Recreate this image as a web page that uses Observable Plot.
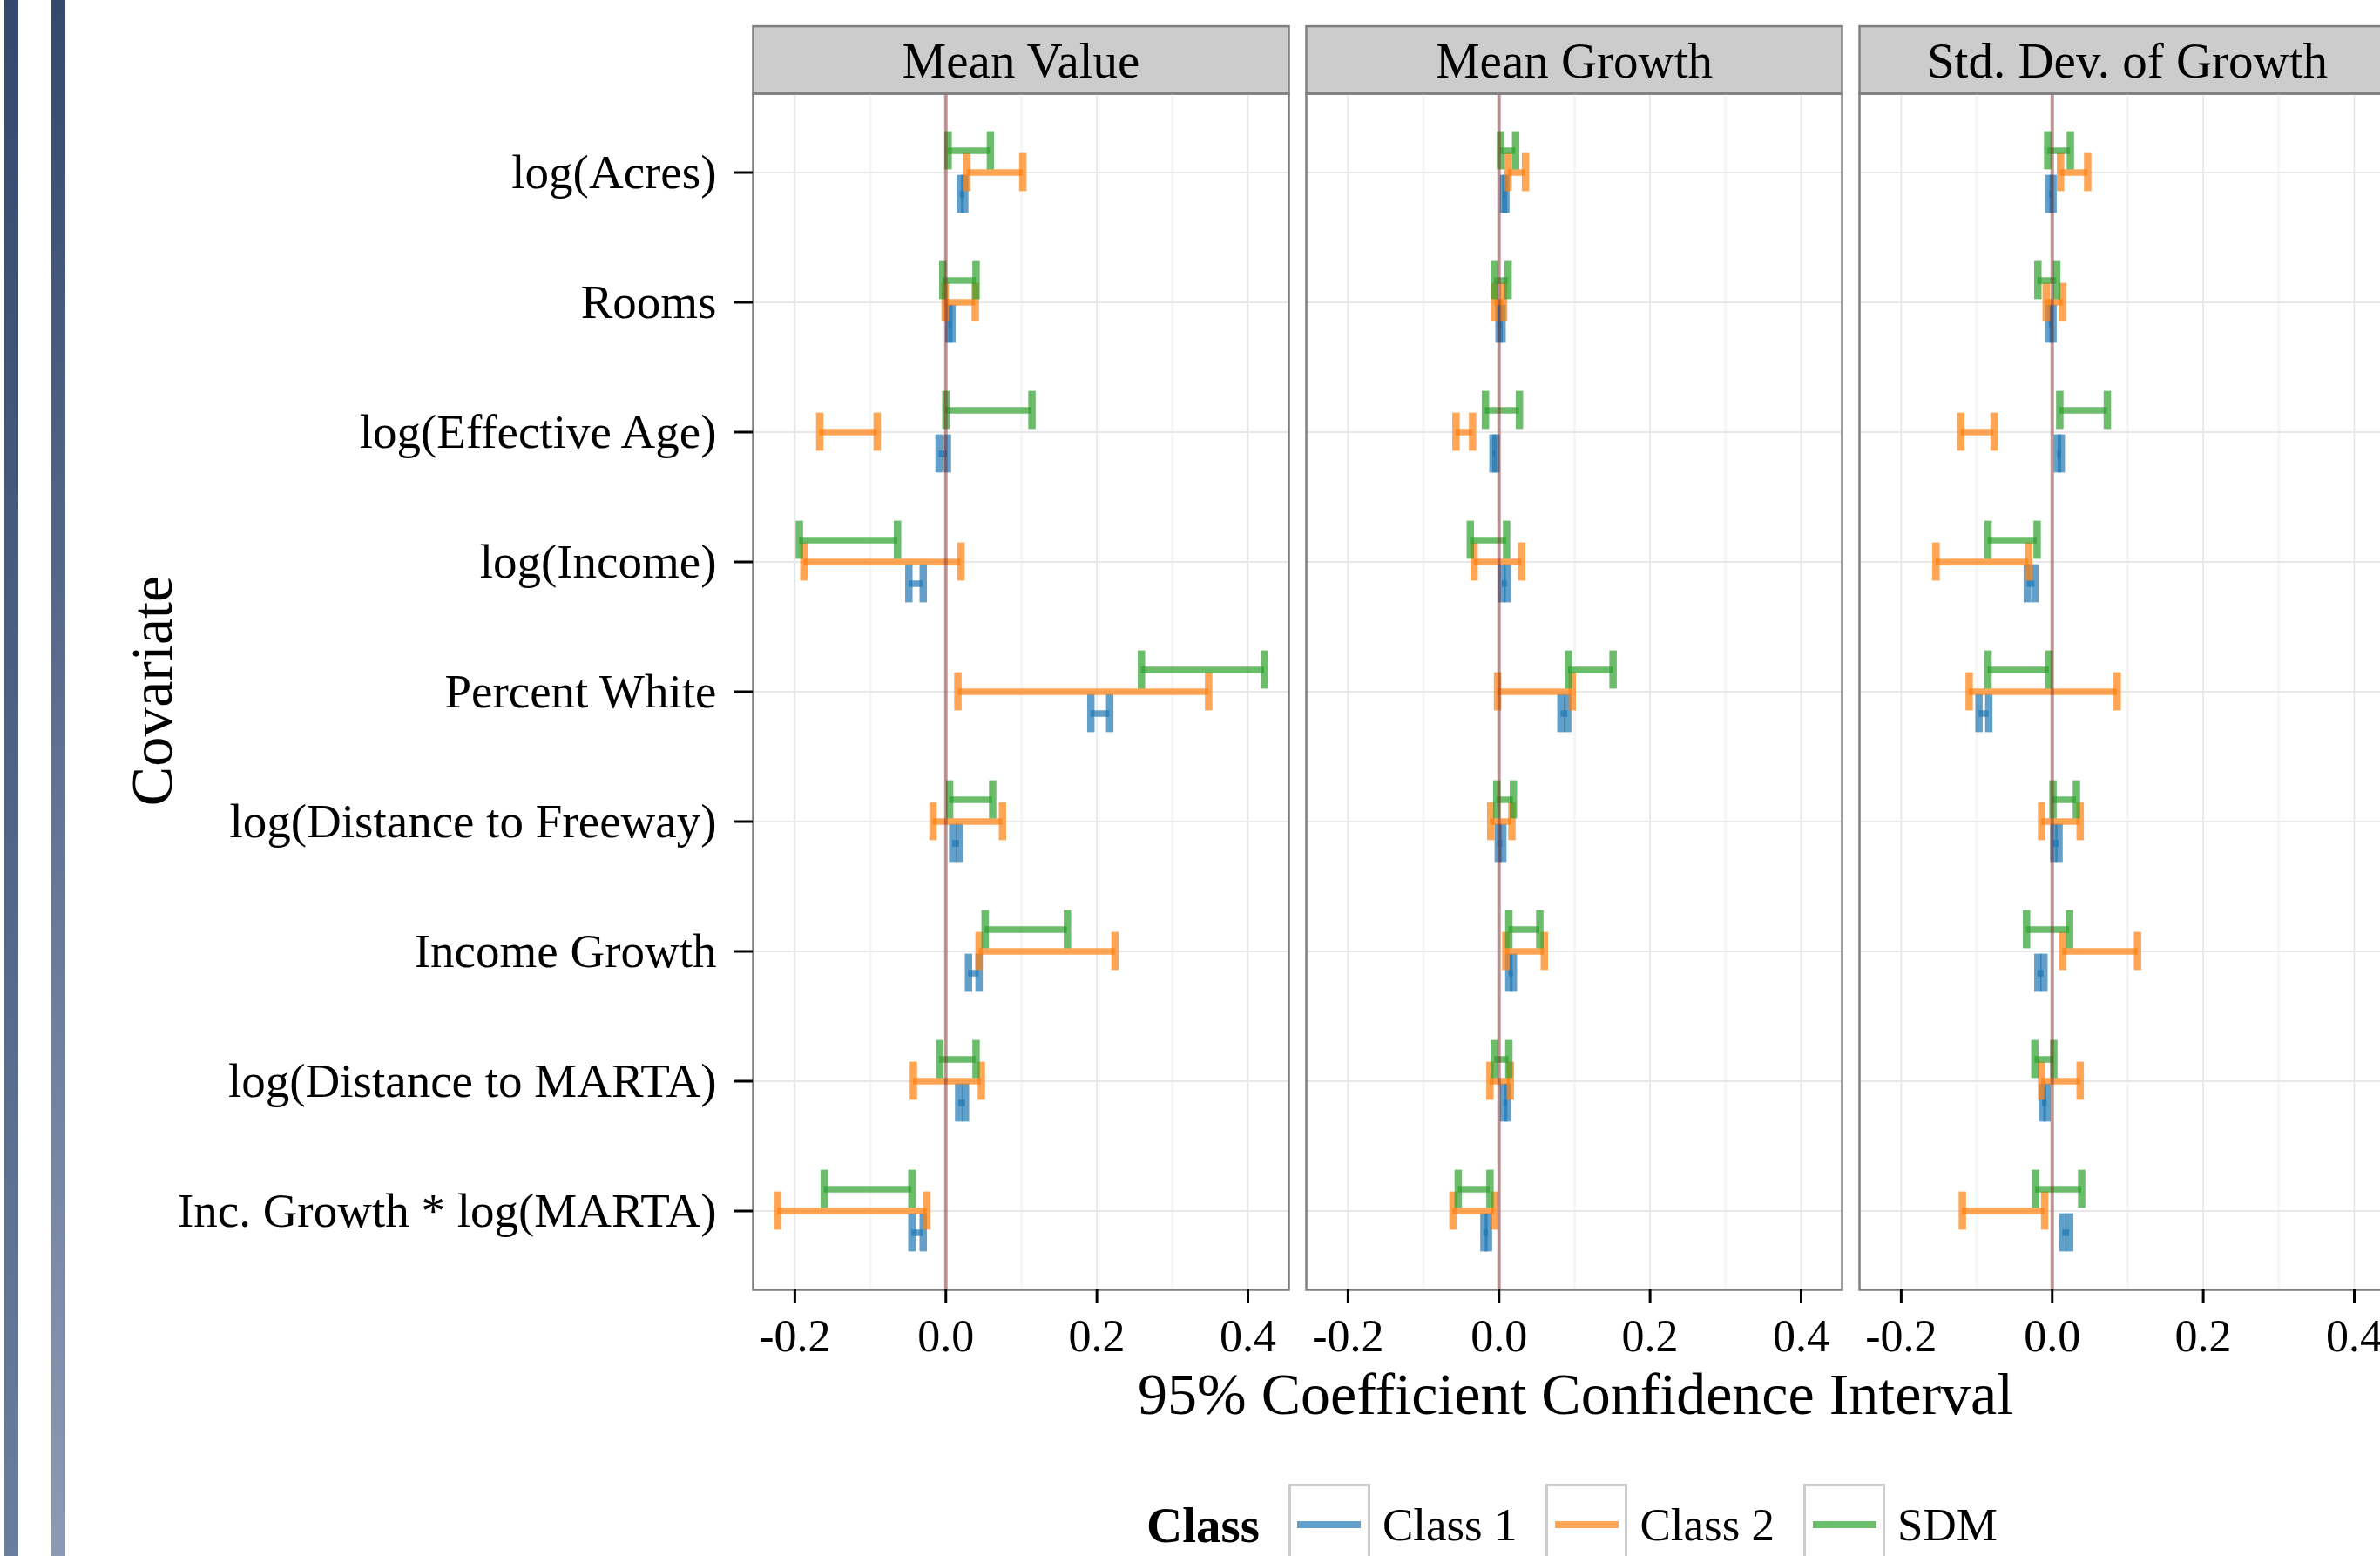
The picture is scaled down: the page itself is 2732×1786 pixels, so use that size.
<!DOCTYPE html>
<html>
<head>
<meta charset="utf-8">
<script src="https://cdn.jsdelivr.net/npm/d3@7"></script>
<script src="https://cdn.jsdelivr.net/npm/@observablehq/plot@0.6"></script>
<style>
  html, body { margin: 0; padding: 0; background: #fff; overflow: hidden; width: 2732px; height: 1786px; }
  #wrap { position: relative; width: 2732px; height: 1786px; overflow: hidden; font-family: "Liberation Serif", serif; color: #000; }
  #chart { position: absolute; left: 0; top: 0; width: 2760px; }
  .deco { position: absolute; top: 0; height: 1786px; z-index: 2; }
  #deco1 { left: 5px; width: 16px; background: linear-gradient(#33486c, #6b7d9f); }
  #deco2 { left: 59px; width: 16px; background: linear-gradient(#34496e, #8d9ab5); }
  .title { position: absolute; font-size: 68px; line-height: 50px; text-align: center; white-space: nowrap; z-index: 2; }
  #ytitle { left: -26px; top: 768px; width: 400px; height: 50px; transform: rotate(-90deg); }
  #xtitle { left: 1306px; top: 1575px; width: 1000px; height: 50px; }
  #legend { position: absolute; left: 1316px; top: 1703px; height: 94px; display: flex; align-items: center; font-size: 53px; white-space: nowrap; z-index: 2; }
  #legend .ltitle { font-weight: bold; font-size: 57px; margin-right: 33px; }
  #legend .key { box-sizing: border-box; width: 94px; height: 94px; border: 3px solid #cccccc; background: #fff; display: flex; align-items: center; justify-content: center; }
  #legend .key div { width: 73px; height: 8px; }
  #legend .lab { margin-left: 14px; margin-right: 33px; }
</style>
</head>
<body>
<div id="wrap">
  <div id="chart"></div>
  <div class="deco" id="deco1"></div>
  <div class="deco" id="deco2"></div>
  <div class="title" id="ytitle">Covariate</div>
  <div class="title" id="xtitle">95% Coefficient Confidence Interval</div>
  <div id="legend"></div>
</div>
<script>
// ---------- data ----------
const covariates = ["log(Acres)", "Rooms", "log(Effective Age)", "log(Income)", "Percent White",
  "log(Distance to Freeway)", "Income Growth", "log(Distance to MARTA)", "Inc. Growth * log(MARTA)"];
const panels = ["Mean Value", "Mean Growth", "Std. Dev. of Growth"];
const classes = ["Class 1", "Class 2", "SDM"];
const classColors = ["#1f77b4", "#ff7f0e", "#2ca02c"];
const xTicks = [-0.2, 0, 0.2, 0.4];
const xMinorTicks = [-0.1, 0.1, 0.3];

// Mean Value
const mvClass1Lo = [0.019, 0.004, -0.009, -0.049, 0.192, 0.009, 0.030, 0.017, -0.045];
const mvClass1Hi = [0.025, 0.008, 0.002, -0.030, 0.217, 0.018, 0.044, 0.026, -0.030];
const mvClass2Lo = [0.028, -0.001, -0.167, -0.188, 0.016, -0.017, 0.044, -0.043, -0.223];
const mvClass2Hi = [0.102, 0.039, -0.091, 0.020, 0.348, 0.075, 0.224, 0.047, -0.025];
const mvSdmLo    = [0.003, -0.004, 0.000, -0.194, 0.259, 0.005, 0.052, -0.008, -0.161];
const mvSdmHi    = [0.059, 0.040, 0.114, -0.064, 0.422, 0.062, 0.161, 0.040, -0.045];
// Mean Growth
const mgClass1Lo = [0.006, 0.000, -0.008, 0.004, 0.082, -0.001, 0.013, 0.006, -0.020];
const mgClass1Hi = [0.009, 0.004, -0.004, 0.011, 0.091, 0.005, 0.019, 0.011, -0.014];
const mgClass2Lo = [0.012, -0.006, -0.057, -0.033, -0.002, -0.011, 0.009, -0.012, -0.061];
const mgClass2Hi = [0.035, 0.006, -0.035, 0.030, 0.097, 0.017, 0.060, 0.015, -0.006];
const mgSdmLo    = [0.002, -0.006, -0.018, -0.038, 0.092, -0.003, 0.013, -0.006, -0.054];
const mgSdmHi    = [0.022, 0.012, 0.027, 0.010, 0.151, 0.019, 0.054, 0.013, -0.012];
// Std. Dev. of Growth
const sdClass1Lo = [-0.004, -0.004, 0.007, -0.033, -0.097, 0.002, -0.019, -0.013, 0.014];
const sdClass1Hi = [0.001, 0.001, 0.012, -0.023, -0.084, 0.009, -0.011, -0.007, 0.023];
const sdClass2Lo = [0.011, -0.008, -0.121, -0.154, -0.110, -0.014, 0.014, -0.014, -0.119];
const sdClass2Hi = [0.047, 0.014, -0.077, -0.031, 0.086, 0.037, 0.113, 0.037, -0.010];
const sdSdmLo    = [-0.006, -0.019, 0.010, -0.085, -0.085, 0.001, -0.034, -0.023, -0.022];
const sdSdmHi    = [0.024, 0.006, 0.073, -0.020, -0.004, 0.032, 0.023, 0.002, 0.039];

const series = [
  ["Mean Value", "Class 1", mvClass1Lo, mvClass1Hi], ["Mean Value", "Class 2", mvClass2Lo, mvClass2Hi], ["Mean Value", "SDM", mvSdmLo, mvSdmHi],
  ["Mean Growth", "Class 1", mgClass1Lo, mgClass1Hi], ["Mean Growth", "Class 2", mgClass2Lo, mgClass2Hi], ["Mean Growth", "SDM", mgSdmLo, mgSdmHi],
  ["Std. Dev. of Growth", "Class 1", sdClass1Lo, sdClass1Hi], ["Std. Dev. of Growth", "Class 2", sdClass2Lo, sdClass2Hi], ["Std. Dev. of Growth", "SDM", sdSdmLo, sdSdmHi]
];
const rows = series.flatMap(([panel, cls, lo, hi]) =>
  covariates.map((covariate, i) => ({panel, cls, covariate, lo: lo[i], hi: hi[i]})));

// ---------- layout ----------
const W = 2760, H = 1580;
const mTop = 107, mLeft = 864, mRight = W - 2749, mBottom = H - 1480;
const panelH = H - mTop - mBottom;
const yPadOuter = 0.1;
const step = panelH / (covariates.length + 2 * yPadOuter);
const capH = 44;
const capInset = (step - capH) / 2;
const dodge = {"Class 1": 25, "Class 2": 0, "SDM": -25};

// ggplot-like 5% expansion of the data range
const allVals = rows.flatMap(r => [r.lo, r.hi]);
const [vmin, vmax] = d3.extent(allVals);
const ext = (vmax - vmin) * 0.05;

const barMarks = classes.flatMap(c => {
  const d = rows.filter(r => r.cls === c);
  const common = {fx: "panel", y: "covariate", stroke: "cls", strokeOpacity: 0.7, dy: dodge[c]};
  return [
    Plot.ruleY(d, {...common, x1: "lo", x2: "hi", strokeWidth: 7.5}),
    Plot.tickX(d, {...common, x: "lo", strokeWidth: 8.5, insetTop: capInset, insetBottom: capInset}),
    Plot.tickX(d, {...common, x: "hi", strokeWidth: 8.5, insetTop: capInset, insetBottom: capInset})
  ];
});

const chart = Plot.plot({
  width: W,
  height: H,
  marginTop: mTop,
  marginLeft: mLeft,
  marginRight: mRight,
  marginBottom: mBottom,
  style: {fontFamily: '"Liberation Serif", serif', fontSize: "53px", background: "white", maxWidth: "none", overflow: "visible", color: "black"},
  fx: {domain: panels, paddingInner: 20 / 635, paddingOuter: 0, axis: null},
  x: {domain: [vmin - ext, vmax + ext]},
  y: {type: "band", domain: covariates, paddingInner: 0, paddingOuter: yPadOuter},
  color: {domain: classes, range: classColors},
  marks: [
    Plot.frame({fill: "#cccccc", stroke: "#7f7f7f", strokeWidth: 2.5, insetTop: -(mTop - 29.6), insetBottom: panelH}),
    Plot.ruleX(xMinorTicks, {stroke: "#f6f6f6", strokeWidth: 3}),
    Plot.ruleX(xTicks, {stroke: "#e5e5e5", strokeWidth: 1.6}),
    Plot.ruleY(covariates, {stroke: "#e8e8e8", strokeWidth: 2}),
    ...barMarks,
    Plot.ruleX([0], {stroke: "#7a2020", strokeOpacity: 0.45, strokeWidth: 4}),
    Plot.frame({stroke: "#7f7f7f", strokeWidth: 2.5}),
    Plot.axisY({facetAnchor: "left", tickSize: 21, tickPadding: 21, fontSize: 55, strokeWidth: 3, label: null}),
    Plot.axisX({facetAnchor: "bottom", ticks: xTicks, tickFormat: d => d.toFixed(1), tickSize: 16, tickPadding: 18, fontSize: 52, strokeWidth: 3, label: null}),
    Plot.text(panels, {fx: d => d, text: d => d, frameAnchor: "top", lineAnchor: "middle", dy: -37, fontSize: 57, fill: "black"})
  ]
});
document.getElementById("chart").appendChild(chart);

// ---------- legend ----------
const legend = document.getElementById("legend");
const lt = document.createElement("div");
lt.className = "ltitle";
lt.textContent = "Class";
legend.appendChild(lt);
const blend = c => { const k = d3.rgb(c); return d3.rgb(k.r * 0.7 + 255 * 0.3, k.g * 0.7 + 255 * 0.3, k.b * 0.7 + 255 * 0.3).formatHex(); };
classes.forEach((c, i) => {
  const key = document.createElement("div");
  key.className = "key";
  const line = document.createElement("div");
  line.style.background = blend(classColors[i]);
  key.appendChild(line);
  legend.appendChild(key);
  const lab = document.createElement("div");
  lab.className = "lab";
  lab.textContent = c;
  legend.appendChild(lab);
});
</script>
</body>
</html>
